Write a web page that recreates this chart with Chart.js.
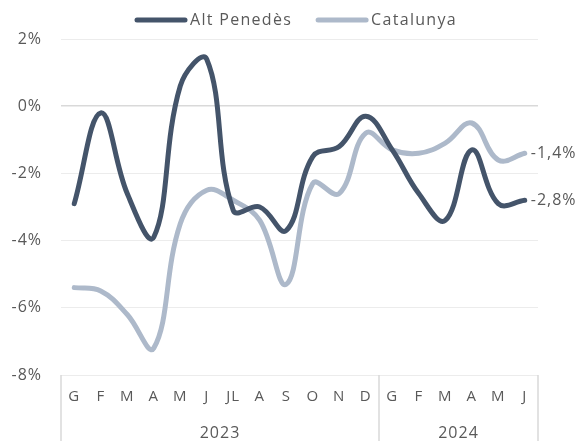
<!DOCTYPE html>
<html>
<head>
<meta charset="utf-8">
<script src="https://cdn.jsdelivr.net/npm/chart.js@4"></script>
<style>
  html, body { margin: 0; padding: 0; background: #ffffff; }
  #chart { display: block; }
</style>
</head>
<body>
<canvas id="chart" width="576" height="441"></canvas>
<script>
// Monthly year-on-year change (%), Jan 2023 – Jun 2024
const categories = ['G','F','M','A','M','J','JL','A','S','O','N','D','G','F','M','A','M','J'];
const years = ['2023', '2024'];
const yearSpans = [[0, 11], [12, 17]];
const altPenedes = [-2.9, -0.2, -2.6, -3.9, 0.6, 1.4, -3.1, -3.0, -3.7, -1.5, -1.2, -0.3, -1.3, -2.6, -3.4, -1.3, -2.9, -2.8];
const catalunya  = [-5.4, -5.5, -6.2, -7.2, -3.5, -2.5, -2.8, -3.4, -5.3, -2.3, -2.6, -0.8, -1.3, -1.4, -1.1, -0.5, -1.6, -1.4];
const yTicks = [2, 0, -2, -4, -6, -8];

const FONT = '"Open Sans", Lato, sans-serif';
const TEXT = '#595959';
const DARK = '#44546A';
const LIGHT = '#ADB9CA';
const SPACING = '1px';

const fmt = v => v.toFixed(1).replace('.', ',') + '%';

// slightly open letter spacing for all canvas text
const spacing = {
  id: 'spacing',
  beforeDraw(chart) { chart.ctx.letterSpacing = SPACING; }
};

const decor = {
  id: 'decor',
  afterDraw(chart) {
    const ctx = chart.ctx;
    const area = chart.chartArea;
    const x = chart.scales.x;
    ctx.save();
    ctx.letterSpacing = SPACING;

    // year group separators under the axis
    ctx.strokeStyle = '#d9d9d9';
    ctx.lineWidth = 1.5;
    const bounds = [area.left];
    yearSpans.forEach(([a, b]) => {
      const last = b === categories.length - 1;
      bounds.push(last ? area.right : (x.getPixelForValue(b) + x.getPixelForValue(b + 1)) / 2);
    });
    bounds.forEach(px => {
      ctx.beginPath();
      ctx.moveTo(px, area.bottom);
      ctx.lineTo(px, chart.height);
      ctx.stroke();
    });

    // year labels
    ctx.fillStyle = TEXT;
    ctx.font = '16px ' + FONT;
    ctx.textAlign = 'center';
    ctx.textBaseline = 'middle';
    years.forEach((y, i) => {
      ctx.fillText(y, (bounds[i] + bounds[i + 1]) / 2, 433);
    });

    // end-of-series value labels
    ctx.textAlign = 'left';
    ctx.font = '16px ' + FONT;
    chart.data.datasets.forEach((ds, i) => {
      const meta = chart.getDatasetMeta(i);
      const pt = meta.data[meta.data.length - 1];
      ctx.fillText(fmt(ds.data[ds.data.length - 1]), pt.x + 6, pt.y);
    });

    // legend
    let lx = 137;
    const ly = 20;
    ctx.letterSpacing = '1.3px';
    chart.data.datasets.forEach(ds => {
      ctx.strokeStyle = ds.borderColor;
      ctx.lineWidth = 5;
      ctx.lineCap = 'round';
      ctx.beginPath();
      ctx.moveTo(lx, ly);
      ctx.lineTo(lx + 48, ly);
      ctx.stroke();
      ctx.fillStyle = TEXT;
      ctx.font = '16px ' + FONT;
      ctx.fillText(ds.label, lx + 53, ly);
      lx += 53 + ctx.measureText(ds.label).width + 26;
    });
    ctx.restore();
  }
};

new Chart(document.getElementById('chart'), {
  type: 'line',
  data: {
    labels: categories,
    datasets: [
      { label: 'Alt Penedès', data: altPenedes, borderColor: DARK, backgroundColor: DARK,
        borderWidth: 5, pointRadius: 0, tension: 0.4, borderCapStyle: 'round', borderJoinStyle: 'round' },
      { label: 'Catalunya', data: catalunya, borderColor: LIGHT, backgroundColor: LIGHT,
        borderWidth: 5, pointRadius: 0, tension: 0.4, borderCapStyle: 'round', borderJoinStyle: 'round' }
    ]
  },
  options: {
    responsive: false,
    animation: false,
    devicePixelRatio: 1,
    layout: { padding: { top: 39, right: 38, left: 0, bottom: 0 } },
    plugins: { legend: { display: false }, tooltip: { enabled: false } },
    scales: {
      x: {
        offset: true,
        grid: { display: false, drawTicks: false },
        border: { display: false },
        ticks: { color: TEXT, font: { family: FONT, size: 15 }, padding: 13, autoSkip: false, maxRotation: 0 },
        afterFit(scale) { scale.height = 66; }
      },
      y: {
        min: -8, max: 2,
        afterBuildTicks(scale) { scale.ticks = yTicks.map(v => ({ value: v })); },
        grid: {
          drawTicks: false,
          color: ctx => ctx.tick && ctx.tick.value === 0 ? '#d9d9d9' : '#ececec',
          lineWidth: ctx => ctx.tick && ctx.tick.value === 0 ? 1.5 : 1
        },
        border: { display: false },
        ticks: { color: TEXT, font: { family: FONT, size: 16 }, padding: 19, callback: v => v + '%' },
        afterFit(scale) { scale.width = 61; }
      }
    }
  },
  plugins: [spacing, decor]
});
</script>
</body>
</html>
